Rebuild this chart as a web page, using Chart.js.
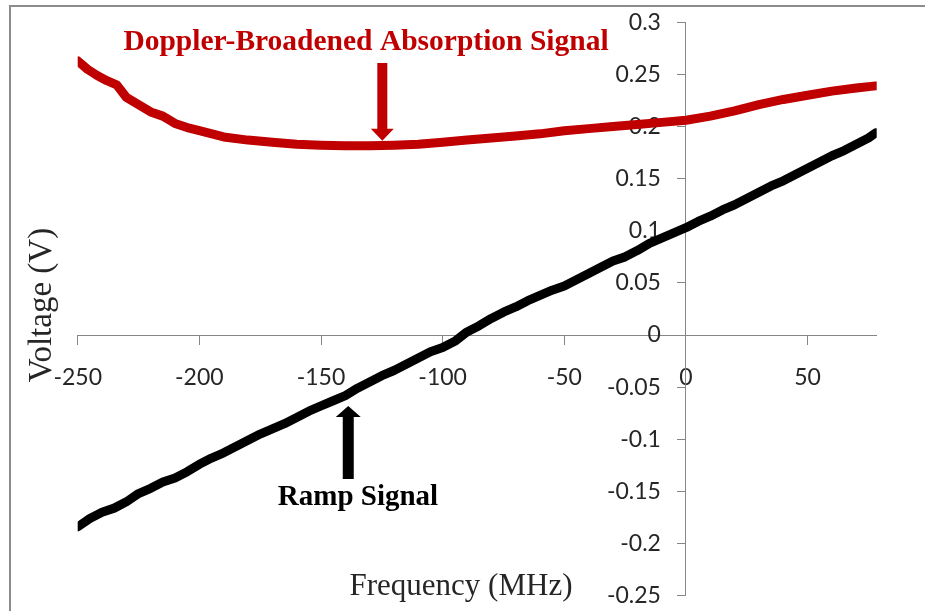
<!DOCTYPE html>
<html>
<head>
<meta charset="utf-8">
<script src="https://cdn.jsdelivr.net/npm/chart.js@4/dist/chart.umd.min.js"></script>
<style>
  html, body { margin: 0; padding: 0; background: #fff; }
  #wrap { width: 925px; height: 611px; }
</style>
</head>
<body>
<div id="wrap"><canvas id="c" width="925" height="611"></canvas></div>
<script>
// tick labels
const xTicks = [-250, -200, -150, -100, -50, 0, 50];
const yTicks = [-0.25, -0.2, -0.15, -0.1, -0.05, 0, 0.05, 0.1, 0.15, 0.2, 0.25, 0.3];

// Doppler-broadened absorption signal (red)
const dopplerFreq = [-250, -246, -242, -238, -234, -230, -225, -220, -215, -210, -205, -200,
  -190, -180, -170, -160, -150, -140, -130, -120, -110, -100, -90, -80, -70, -60, -50,
  -40, -30, -20, -10, 0, 10, 20, 30, 40, 50, 60, 70, 78];
const dopplerVolt = [0.263, 0.255, 0.249, 0.244, 0.240, 0.228, 0.221, 0.214, 0.210, 0.203, 0.199, 0.196,
  0.190, 0.187, 0.185, 0.183, 0.182, 0.1815, 0.1815, 0.182, 0.183, 0.185, 0.187, 0.189, 0.191, 0.193, 0.196,
  0.198, 0.200, 0.202, 0.204, 0.206, 0.210, 0.215, 0.221, 0.226, 0.230, 0.234, 0.237, 0.239];

// ramp signal (black)
const rampFreq = [-250, -245, -240, -235, -230, -225, -220, -215, -210, -205, -200, -195, -190, -185,
  -180, -175, -170, -165, -160, -155, -150, -145, -140, -135, -130, -125, -120, -115, -110, -105,
  -100, -95, -90, -85, -80, -75, -70, -65, -60, -55, -50, -45, -40, -35, -30, -25, -20, -15, -10, -5,
  0, 5, 10, 15, 20, 25, 30, 35, 40, 45, 50, 55, 60, 65, 70, 75, 78];
const rampVolt = [-0.184, -0.176, -0.170, -0.166, -0.160, -0.152, -0.147, -0.141, -0.137, -0.131, -0.124, -0.118, -0.113, -0.107,
  -0.101, -0.095, -0.090, -0.085, -0.079, -0.073, -0.068, -0.063, -0.058, -0.051, -0.045, -0.039, -0.034, -0.028, -0.022, -0.016,
  -0.012, -0.006, 0.003, 0.009, 0.016, 0.022, 0.027, 0.033, 0.038, 0.043, 0.047, 0.053, 0.059, 0.065, 0.071, 0.075, 0.081, 0.088, 0.093, 0.098,
  0.103, 0.109, 0.114, 0.120, 0.125, 0.131, 0.137, 0.143, 0.148, 0.154, 0.160, 0.166, 0.172, 0.177, 0.183, 0.189, 0.194];

const RED = '#c00000';
const AXIS = '#868686';
const Y_TICK_LEN = 8;
const Y_LABEL_PAD = 17;

function toPoints(xs, ys) {
  return xs.map((x, i) => ({ x: x, y: ys[i] }));
}

function arrow(ctx, x, yTail, yTip, shaftW, headW, headL, color) {
  const dir = yTip > yTail ? 1 : -1;
  const yBase = yTip - dir * headL;
  ctx.save();
  ctx.fillStyle = color;
  ctx.beginPath();
  ctx.moveTo(x - shaftW / 2, yTail);
  ctx.lineTo(x + shaftW / 2, yTail);
  ctx.lineTo(x + shaftW / 2, yBase);
  ctx.lineTo(x + headW / 2, yBase);
  ctx.lineTo(x, yTip);
  ctx.lineTo(x - headW / 2, yBase);
  ctx.lineTo(x - shaftW / 2, yBase);
  ctx.closePath();
  ctx.fill();
  ctx.restore();
}

// a y axis placed at x=0 puts its labels right on the line, push them left of the ticks
const shiftYLabels = {
  id: 'shiftYLabels',
  beforeDraw(chart) {
    const items = chart.scales.y.getLabelItems();
    if (items._shifted) return;
    items.forEach(it => { it.options.translation[0] -= Y_TICK_LEN + Y_LABEL_PAD; });
    items._shifted = true;
  }
};

// frame, axis titles, annotations
const decor = {
  id: 'decor',
  afterDraw(chart) {
    const ctx = chart.ctx;
    const xs = chart.scales.x, ys = chart.scales.y;
    ctx.save();
    ctx.strokeStyle = '#8c8c8c';
    ctx.lineWidth = 2;
    ctx.strokeRect(10, 6, 1000, 1000);

    ctx.fillStyle = '#262626';
    ctx.textAlign = 'center';
    ctx.textBaseline = 'alphabetic';
    ctx.font = '31px "Liberation Serif"';
    ctx.fillText('Frequency (MHz)', 461, 595);
    ctx.save();
    ctx.translate(51, 305);
    ctx.rotate(-Math.PI / 2);
    ctx.font = '33px "Liberation Serif"';
    ctx.fillText('Voltage (V)', 0, 0);
    ctx.restore();

    ctx.font = 'bold 29.5px "Liberation Serif"';
    ctx.fillStyle = RED;
    ctx.fillText('Doppler-Broadened Absorption Signal', 366, 50);
    ctx.font = 'bold 29px "Liberation Serif"';
    ctx.fillStyle = '#000';
    ctx.fillText('Ramp Signal', 358, 505);
    ctx.restore();

    arrow(ctx, xs.getPixelForValue(-124.8), 63, ys.getPixelForValue(0.1865), 10, 23, 12, RED);
    arrow(ctx, xs.getPixelForValue(-138.8), 479, ys.getPixelForValue(-0.068), 11, 25, 11, '#000');
  }
};

function noPadding(s) {
  s.paddingTop = 0; s.paddingBottom = 0; s.paddingLeft = 0; s.paddingRight = 0;
}

new Chart(document.getElementById('c'), {
  type: 'scatter',
  data: {
    datasets: [
      {
        label: 'Ramp Signal',
        data: toPoints(rampFreq, rampVolt),
        showLine: true,
        borderColor: '#000',
        backgroundColor: '#000',
        borderWidth: 9,
        borderJoinStyle: 'round',
        borderCapStyle: 'round',
        pointRadius: 0
      },
      {
        label: 'Doppler-Broadened Absorption Signal',
        data: toPoints(dopplerFreq, dopplerVolt),
        showLine: true,
        borderColor: RED,
        backgroundColor: RED,
        borderWidth: 9,
        borderJoinStyle: 'round',
        borderCapStyle: 'round',
        pointRadius: 0
      }
    ]
  },
  options: {
    responsive: false,
    devicePixelRatio: 1,
    animation: false,
    layout: { padding: { left: 77.7, top: 22.3, right: 48.3, bottom: 15.3 } },
    plugins: { legend: { display: false }, tooltip: { enabled: false } },
    scales: {
      x: {
        type: 'linear',
        min: -250,
        max: 78.4,
        position: { y: 0 },
        afterBuildTicks: s => { s.ticks = xTicks.map(v => ({ value: v })); },
        afterFit: noPadding,
        grid: { drawOnChartArea: false, drawTicks: true, tickLength: 9, color: AXIS },
        border: { color: AXIS, width: 1 },
        ticks: {
          autoSkip: false, maxRotation: 0, padding: 20, color: '#262626',
          font: { family: 'Lato', size: 23 },
          callback: v => String(v)
        }
      },
      y: {
        type: 'linear',
        min: -0.25,
        max: 0.3,
        position: { x: 0 },
        afterBuildTicks: s => { s.ticks = yTicks.map(v => ({ value: v })); },
        afterFit: noPadding,
        grid: { drawOnChartArea: false, drawTicks: true, tickLength: Y_TICK_LEN, color: AXIS },
        border: { color: AXIS, width: 1 },
        ticks: {
          autoSkip: false, padding: Y_LABEL_PAD, color: '#262626',
          font: { family: 'Lato', size: 23 },
          callback: v => String(Math.round(v * 100) / 100)
        }
      }
    }
  },
  plugins: [shiftYLabels, decor]
});
</script>
</body>
</html>
